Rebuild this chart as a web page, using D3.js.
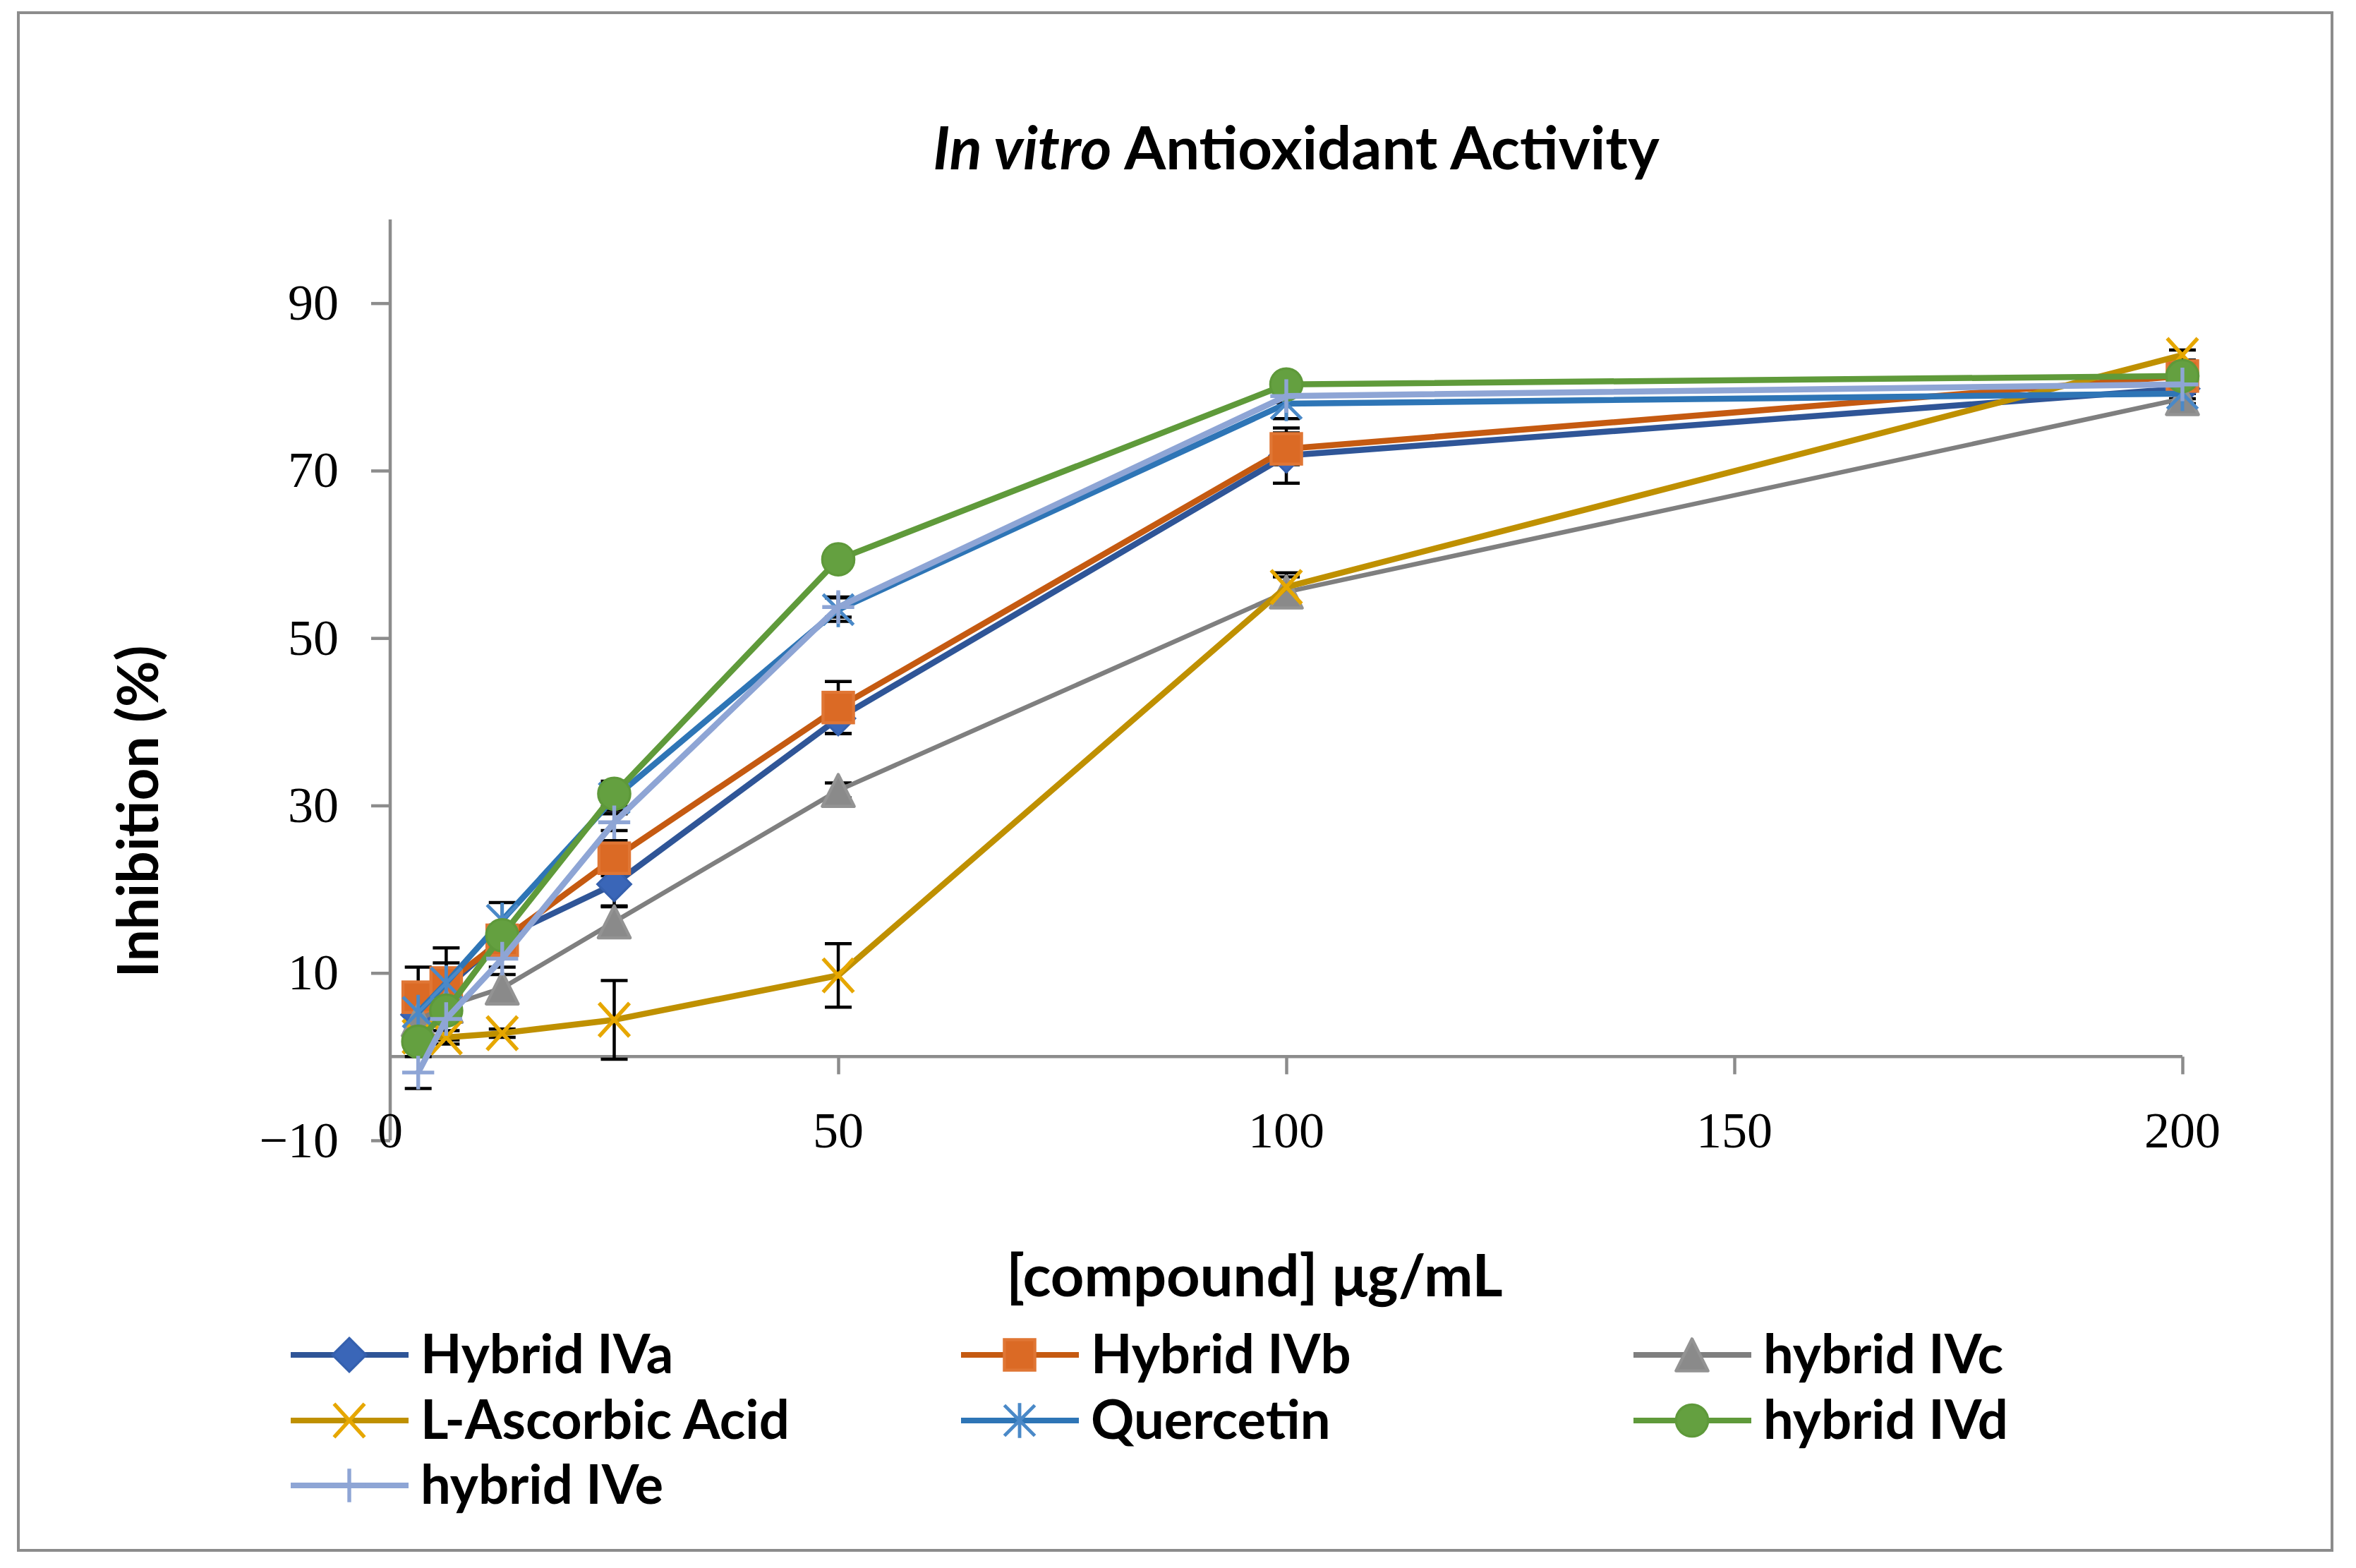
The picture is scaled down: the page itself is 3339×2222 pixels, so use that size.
<!DOCTYPE html>
<html>
<head>
<meta charset="utf-8">
<script src="https://cdn.jsdelivr.net/npm/d3@7"></script>
<style>
  body { margin: 0; background: #fff; }
  .tick text { font-family: "Liberation Serif", "Times New Roman", serif; }
</style>
</head>
<body>
<div id="chart"></div>
<script>
var svgWidth = 3339;
var svgHeight = 2222;

// chart data
var concentrations = [3.125, 6.25, 12.5, 25, 50, 100, 200];
var seriesNames = ["Hybrid IVa", "Hybrid IVb", "hybrid IVc", "L-Ascorbic Acid", "Quercetin", "hybrid IVd", "hybrid IVe"];
var ivaValues = [5.0, 8.2, 14.2, 20.6, 40.4, 71.8, 79.8];
var ivbValues = [7.1, 8.8, 13.9, 23.7, 41.7, 72.6, 81.3];
var ivcValues = [4.4, 6.0, 8.2, 16.1, 31.8, 55.5, 78.6];
var ascorbicValues = [2.4, 2.3, 2.8, 4.4, 9.7, 56.1, 83.8];
var quercetinValues = [5.3, 8.8, 16.3, 30.9, 53.4, 78.0, 79.2];
var ivdValues = [1.8, 5.5, 14.5, 31.4, 59.4, 80.3, 81.3];
var iveValues = [-1.9, 4.5, 11.7, 28.0, 53.7, 78.9, 80.3];
// error bars (+/-)
var ivaErr = [1.5, 1.8, 1.5, 2.6, 1.8, 3.3, 0.6];
var ivbErr = [3.6, 4.2, 1.2, 2.1, 3.1, 1.9, 0.6];
var ivcErr = [1.0, 1.0, 1.6, 1.8, 0.9, 1.8, 0.6];
var ascorbicErr = [0.6, 0.8, 0.5, 4.7, 3.8, 1.7, 0.6];
var quercetinErr = [1.5, 2.4, 2.1, 1.5, 1.4, 1.8, 0.6];
var ivdErr = [0.6, 0.6, 0.6, 1.5, 0.6, 0.6, 0.6];
var iveErr = [1.9, 2.5, 1.0, 1.0, 1.2, 0.8, 0.6];
var xTicks = [0, 50, 100, 150, 200];
var yTicks = [-10, 10, 30, 50, 70, 90];

var allValues = [ivaValues, ivbValues, ivcValues, ascorbicValues, quercetinValues, ivdValues, iveValues];
var allErr = [ivaErr, ivbErr, ivcErr, ascorbicErr, quercetinErr, ivdErr, iveErr];

// look of each series
var styles = [
  {line: "#2F5597", marker: "diamond", fill: "#3A66B8", stroke: "#3560AE"},
  {line: "#C55A11", marker: "square", fill: "#DB6A25", stroke: "#E07634"},
  {line: "#7F7F7F", marker: "triangle", fill: "#8A8A8A", stroke: "#939393"},
  {line: "#BF9000", marker: "x", fill: "none", stroke: "#E6A700"},
  {line: "#2E75B6", marker: "star", fill: "none", stroke: "#4A89C8"},
  {line: "#5F9A3A", marker: "circle", fill: "#64A040", stroke: "#5E993A"},
  {line: "#8EA5D5", marker: "plus", fill: "none", stroke: "#8EA5D5"}
];

var series = seriesNames.map(function(name, i) {
  return {
    name: name,
    style: styles[i],
    points: concentrations.map(function(c, j) {
      return {x: c, y: allValues[i][j], err: allErr[i][j]};
    })
  };
});

var plot = {left: 553, right: 3093, top: 311, bottom: 1616};

var svg = d3.select("#chart")
  .append("svg")
  .attr("width", svgWidth)
  .attr("height", svgHeight)
  .style("font-family", "Lato, 'Open Sans', sans-serif");

svg.append("rect")
  .attr("width", svgWidth)
  .attr("height", svgHeight)
  .attr("fill", "#fff");

// outer frame
svg.append("rect")
  .attr("x", 26)
  .attr("y", 18)
  .attr("width", 3279)
  .attr("height", 2179)
  .attr("fill", "none")
  .attr("stroke", "#8C8C8C")
  .attr("stroke-width", 4);

var xScale = d3.scaleLinear()
  .domain([0, 200])
  .range([plot.left, plot.right]);

var yScale = d3.scaleLinear()
  .domain([-10, 100])
  .range([plot.bottom, plot.top]);

var axisColor = "#8C8C8C";

// y axis
var leftAxis = d3.axisLeft(yScale)
  .tickValues(yTicks)
  .tickSize(27)
  .tickPadding(46)
  .tickFormat(function(d) { return d < 0 ? "\u2212" + Math.abs(d) : d; });

var yAxisG = svg.append("g")
  .attr("transform", `translate(${plot.left}, 0)`)
  .call(leftAxis);
yAxisG.select(".domain").remove();
yAxisG.append("line")
  .attr("x1", 0).attr("x2", 0)
  .attr("y1", yScale(100)).attr("y2", yScale(-10))
  .attr("stroke", axisColor).attr("stroke-width", 4.5);

// x axis sits at y = 0, labels at the bottom of the plot
var bottomAxis = d3.axisBottom(xScale)
  .tickValues(xTicks)
  .tickSize(25)
  .tickFormat("");

var xAxisG = svg.append("g")
  .attr("transform", `translate(0, ${yScale(0)})`)
  .call(bottomAxis);
xAxisG.select(".domain").remove();
xAxisG.selectAll(".tick").filter(function(d) { return d === 0; }).remove();
xAxisG.append("line")
  .attr("x1", xScale(0)).attr("x2", xScale(200))
  .attr("y1", 0).attr("y2", 0)
  .attr("stroke", axisColor).attr("stroke-width", 4.5);

svg.selectAll(".xlabel")
  .data(xTicks)
  .enter()
  .append("text")
  .attr("class", "xlabel")
  .attr("x", d => xScale(d))
  .attr("y", yScale(-10) + 10)
  .attr("text-anchor", "middle")
  .attr("font-family", "'Liberation Serif', 'Times New Roman', serif")
  .attr("font-size", 72)
  .text(d => d);

svg.selectAll(".tick line")
  .attr("stroke", axisColor)
  .attr("stroke-width", 4.5);
yAxisG.selectAll(".tick text")
  .attr("font-size", 72)
  .attr("fill", "#000");

// error bars
var capHalf = 19;
series.forEach(function(s) {
  var g = svg.append("g")
    .attr("stroke", "#000")
    .attr("stroke-width", 4.5);
  s.points.forEach(function(p) {
    var x = xScale(p.x), y1 = yScale(p.y + p.err), y2 = yScale(p.y - p.err);
    g.append("line").attr("x1", x).attr("x2", x).attr("y1", y1).attr("y2", y2);
    g.append("line").attr("x1", x - capHalf).attr("x2", x + capHalf).attr("y1", y1).attr("y2", y1);
    g.append("line").attr("x1", x - capHalf).attr("x2", x + capHalf).attr("y1", y2).attr("y2", y2);
  });
});

// marker drawing
function drawMarker(g, style, x, y) {
  var m = g.append("g").attr("transform", `translate(${x}, ${y}) scale(1.08)`);
  if (style.marker === "diamond") {
    m.append("path").attr("d", "M0,-22L22,0L0,22L-22,0Z")
      .attr("fill", style.fill).attr("stroke", style.stroke).attr("stroke-width", 3);
  } else if (style.marker === "square") {
    m.append("rect").attr("x", -20).attr("y", -20).attr("width", 40).attr("height", 40)
      .attr("fill", style.fill).attr("stroke", style.stroke).attr("stroke-width", 4);
  } else if (style.marker === "triangle") {
    m.append("path").attr("d", "M0,-21L21,21L-21,21Z")
      .attr("fill", style.fill).attr("stroke", style.stroke).attr("stroke-width", 4)
      .attr("stroke-linejoin", "round");
  } else if (style.marker === "circle") {
    m.append("circle").attr("r", 21)
      .attr("fill", style.fill).attr("stroke", style.stroke).attr("stroke-width", 3);
  } else if (style.marker === "x") {
    m.append("path").attr("d", "M-20,-22L20,22M20,-22L-20,22")
      .attr("stroke", style.stroke).attr("stroke-width", 5);
  } else if (style.marker === "star") {
    m.append("path").attr("d", "M-20,-20L20,20M20,-20L-20,20M0,-23L0,23")
      .attr("stroke", style.stroke).attr("stroke-width", 4.5);
  } else if (style.marker === "plus") {
    m.append("path").attr("d", "M-21,0L21,0M0,-22L0,22")
      .attr("stroke", style.stroke).attr("stroke-width", 5);
  }
}

var line = d3.line()
  .x(d => xScale(d.x))
  .y(d => yScale(d.y));

// lines and markers, one series after another
series.forEach(function(s) {
  var g = svg.append("g");
  g.append("path")
    .datum(s.points)
    .attr("d", line)
    .attr("fill", "none")
    .attr("stroke", s.style.line)
    .attr("stroke-width", s.style.marker === "triangle" ? 6.5 : 8.5)
    .attr("stroke-linejoin", "round");
  s.points.forEach(function(p) {
    drawMarker(g, s.style, xScale(p.x), yScale(p.y));
  });
});

// title
var title = svg.append("text")
  .attr("x", 1837)
  .attr("y", 240)
  .attr("text-anchor", "middle")
  .attr("font-size", 85)
  .attr("font-weight", "bold");
title.append("tspan").attr("font-style", "italic").text("In vitro");
title.append("tspan").text(" Antioxidant Activity");

// axis titles
svg.append("text")
  .attr("transform", "translate(224, 1150) rotate(-90)")
  .attr("text-anchor", "middle")
  .attr("font-size", 80)
  .attr("font-weight", "bold")
  .text("Inhibition (%)");

svg.append("text")
  .attr("x", 1778)
  .attr("y", 1837)
  .attr("text-anchor", "middle")
  .attr("font-size", 83)
  .attr("font-weight", "bold")
  .text("[compound] \u03bcg/mL");

// legend
var legendCols = [412, 1362, 2315];
var legendRows = [1920, 2013, 2105];
series.forEach(function(s, i) {
  var lx = legendCols[i % 3];
  var ly = legendRows[Math.floor(i / 3)];
  var g = svg.append("g");
  g.append("line")
    .attr("x1", lx).attr("x2", lx + 167)
    .attr("y1", ly).attr("y2", ly)
    .attr("stroke", s.style.line)
    .attr("stroke-width", 8);
  drawMarker(g, s.style, lx + 83, ly);
  g.append("text")
    .attr("x", lx + 184)
    .attr("y", ly + 26)
    .attr("font-size", 76)
    .attr("font-weight", "bold")
    .text(s.name);
});
</script>
</body>
</html>
